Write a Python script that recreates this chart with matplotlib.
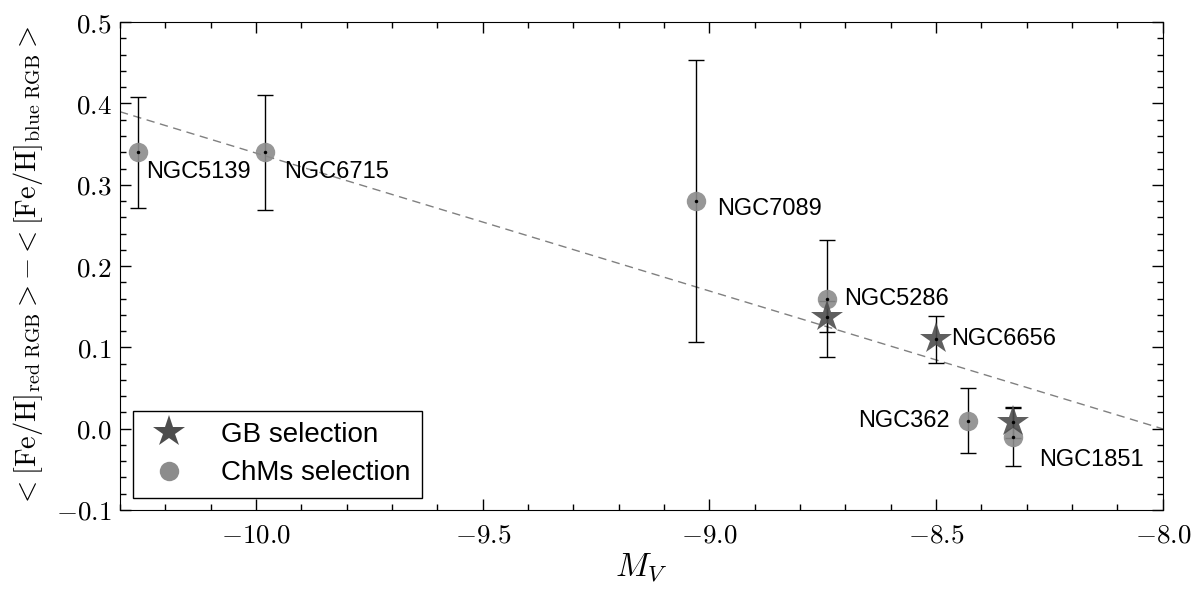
import matplotlib
matplotlib.use("Agg")
import matplotlib.pyplot as plt
from matplotlib.ticker import MultipleLocator, FuncFormatter
from matplotlib.lines import Line2D
import numpy as np

plt.rcParams['mathtext.fontset'] = 'cm'
plt.rcParams['font.family'] = ['Liberation Sans', 'DejaVu Sans']

# ChMs selection (circles)
chms_names = ['NGC5139', 'NGC6715', 'NGC7089', 'NGC5286', 'NGC362', 'NGC1851']
chms_mv = [-10.26, -9.98, -9.03, -8.74, -8.43, -8.33]
chms_dfe = [0.34, 0.34, 0.28, 0.16, 0.01, -0.01]
chms_err = [0.068, 0.071, 0.173, 0.072, 0.040, 0.036]

# GB selection (stars)
gb_names = ['NGC5286', 'NGC6656', 'NGC1851']
gb_mv = [-8.74, -8.50, -8.33]
gb_dfe = [0.138, 0.11, 0.008]
gb_err = [0.019, 0.029, 0.019]

# linear fit
fit_slope = -0.1696
fit_intercept = -1.357

# label offsets in points (dx, dy, ha)
label_offsets = {
    'NGC5139': (6, -14, 'left'),
    'NGC6715': (14, -14, 'left'),
    'NGC7089': (15, -6, 'left'),
    'NGC5286': (12, 0, 'left'),
    'NGC6656': (11, 0, 'left'),
    'NGC362': (-13, 0, 'right'),
    'NGC1851': (19, -17, 'left'),
}

fig = plt.figure(figsize=(12, 6), dpi=100)
ax = fig.add_axes([0.1, 0.15, 0.869, 0.813])

xs = np.array([-10.3, -8.0])
ax.plot(xs, fit_slope * xs + fit_intercept, ls='--', color='0.5', lw=1, dashes=(6, 4), zorder=1)

ax.errorbar(chms_mv, chms_dfe, yerr=chms_err, fmt='none', ecolor='k', elinewidth=1,
            capsize=5.5, capthick=1, zorder=2)
ax.errorbar(gb_mv, gb_dfe, yerr=gb_err, fmt='none', ecolor='k', elinewidth=1,
            capsize=5.5, capthick=1, zorder=2)
ax.plot(chms_mv, chms_dfe, 'o', color='0.55', ms=14, mew=0, alpha=0.9, zorder=3)
ax.plot(gb_mv, gb_dfe, '*', color='0.3', ms=24, mew=0, alpha=0.9, zorder=4)
ax.plot(chms_mv + gb_mv, chms_dfe + gb_dfe, 'o', color='k', ms=2.5, mew=0, zorder=5)

labeled = {}
for n, x, y in zip(chms_names, chms_mv, chms_dfe):
    labeled[n] = (x, y)
for n, x, y in zip(gb_names, gb_mv, gb_dfe):
    if n not in labeled:
        labeled[n] = (x, y)
for n, (x, y) in labeled.items():
    dx, dy, ha = label_offsets[n]
    ax.annotate(n, (x, y), xytext=(dx, dy), textcoords='offset points',
                ha=ha, va='center', fontsize=17)

ax.set_xlim(-10.3, -8.0)
ax.set_ylim(-0.1, 0.5)
ax.xaxis.set_major_locator(MultipleLocator(0.5))
ax.xaxis.set_minor_locator(MultipleLocator(0.1))
ax.yaxis.set_major_locator(MultipleLocator(0.1))
ax.yaxis.set_minor_locator(MultipleLocator(0.02))
fmt = FuncFormatter(lambda v, p: r'$%.1f$' % v if abs(v) > 1e-9 else r'$0.0$')
ax.xaxis.set_major_formatter(fmt)
ax.yaxis.set_major_formatter(fmt)
ax.tick_params(which='both', direction='in', top=True, right=True, labelsize=19.5)
ax.tick_params(which='major', length=8, width=1)
ax.tick_params(which='minor', length=4, width=1)
ax.tick_params(axis='x', pad=9)
ax.tick_params(axis='y', pad=6)

ax.set_xlabel(r'$M_V$', fontsize=24, labelpad=2)
ax.set_ylabel(r'$<[\mathrm{Fe/H}]_{\mathrm{red\ RGB}}> - <[\mathrm{Fe/H}]_{\mathrm{blue\ RGB}}>$',
              fontsize=20.5, labelpad=8)

handles = [Line2D([], [], ls='none', marker='*', color='0.3', ms=24, mew=0),
           Line2D([], [], ls='none', marker='o', color='0.55', ms=14, mew=0)]
leg = ax.legend(handles, ['GB selection', 'ChMs selection'], loc='lower left',
                fontsize=20, fancybox=False, framealpha=1, edgecolor='k',
                handletextpad=1.0, handlelength=1.8, borderpad=0.4,
                labelspacing=0.45, borderaxespad=0.45)
leg.get_frame().set_linewidth(1)

fig.savefig('out.png', dpi=100)
